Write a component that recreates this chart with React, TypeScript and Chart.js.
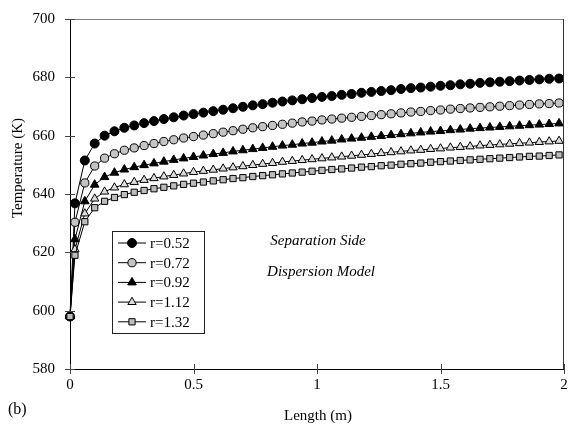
import React, { useEffect, useRef } from "react";
import { Chart, registerables } from "chart.js";
import { drawPoint } from "chart.js/helpers";

Chart.register(...registerables);

const LENGTH = [
  0, 0.02, 0.06, 0.1, 0.14, 0.18, 0.22, 0.26, 0.3, 0.34, 0.38, 0.42, 0.46, 0.5, 0.54, 0.58, 0.62,
  0.66, 0.7, 0.74, 0.78, 0.82, 0.86, 0.9, 0.94, 0.98, 1.02, 1.06, 1.1, 1.14, 1.18, 1.22, 1.26,
  1.3, 1.34, 1.38, 1.42, 1.46, 1.5, 1.54, 1.58, 1.62, 1.66, 1.7, 1.74, 1.78, 1.82, 1.86, 1.9,
  1.94, 1.98,
];

const T_R052 = [
  598, 636.8, 651.5, 657.3, 660.0, 661.5, 662.7, 663.5, 664.3, 665.0, 665.7, 666.3, 666.9, 667.4,
  667.9, 668.4, 668.9, 669.4, 669.9, 670.4, 670.8, 671.3, 671.7, 672.1, 672.5, 672.9, 673.3,
  673.6, 674.0, 674.3, 674.7, 675.0, 675.3, 675.6, 676.0, 676.3, 676.5, 676.8, 677.1, 677.3,
  677.6, 677.8, 678.1, 678.3, 678.5, 678.7, 678.9, 679.1, 679.3, 679.5, 679.6,
];

const T_R072 = [
  598, 630.3, 643.8, 649.6, 652.3, 653.8, 655.0, 655.8, 656.6, 657.3, 658.0, 658.6, 659.2, 659.7,
  660.2, 660.7, 661.2, 661.7, 662.2, 662.7, 663.1, 663.5, 663.9, 664.3, 664.7, 665.0, 665.4,
  665.7, 666.0, 666.3, 666.6, 666.9, 667.2, 667.5, 667.8, 668.1, 668.3, 668.6, 668.8, 669.1,
  669.3, 669.5, 669.7, 669.9, 670.1, 670.3, 670.5, 670.7, 670.9, 671.0, 671.2,
];

const T_R092 = [
  598, 624.5, 637.5, 643.2, 645.8, 647.3, 648.4, 649.2, 649.9, 650.5, 651.1, 651.7, 652.2, 652.7,
  653.2, 653.7, 654.1, 654.6, 655.0, 655.4, 655.8, 656.2, 656.6, 656.9, 657.3, 657.6, 658.0,
  658.3, 658.7, 659.0, 659.3, 659.6, 659.9, 660.2, 660.5, 660.8, 661.1, 661.4, 661.6, 661.9,
  662.1, 662.4, 662.6, 662.8, 663.0, 663.2, 663.4, 663.6, 663.8, 664.0, 664.2,
];

const T_R112 = [
  598, 621.0, 633.3, 638.4, 640.8, 642.2, 643.3, 644.1, 644.8, 645.4, 646.0, 646.5, 647.0, 647.5,
  647.9, 648.3, 648.7, 649.1, 649.5, 649.9, 650.3, 650.6, 651.0, 651.3, 651.6, 651.9, 652.2,
  652.5, 652.8, 653.1, 653.4, 653.7, 654.0, 654.3, 654.6, 654.9, 655.1, 655.4, 655.6, 655.9,
  656.1, 656.3, 656.6, 656.8, 657.0, 657.2, 657.4, 657.6, 657.8, 658.0, 658.2,
];

const T_R132 = [
  598, 619.0, 630.5, 635.3, 637.5, 638.8, 639.8, 640.6, 641.2, 641.8, 642.3, 642.8, 643.3, 643.7,
  644.1, 644.5, 644.9, 645.3, 645.6, 646.0, 646.3, 646.6, 646.9, 647.2, 647.5, 647.8, 648.1,
  648.4, 648.6, 648.9, 649.2, 649.4, 649.7, 649.9, 650.2, 650.4, 650.6, 650.9, 651.1, 651.3,
  651.5, 651.7, 651.9, 652.1, 652.3, 652.5, 652.7, 652.9, 653.0, 653.2, 653.4,
];

const SERIES_LABELS = ["r=0.52", "r=0.72", "r=0.92", "r=1.12", "r=1.32"];
const X_TITLE = "Length (m)";
const Y_TITLE = "Temperature (K)";
const PANEL_LABEL = "(b)";
const NOTE_LINES = ["Separation Side", "Dispersion Model"];

const SERIF = "'Liberation Serif', 'Times New Roman', serif";

const STYLES = [
  { pointStyle: "circle", fill: "#000000", radius: 4.5 },
  { pointStyle: "circle", fill: "#c4c4c4", radius: 4.1 },
  { pointStyle: "triangle", fill: "#000000", radius: 5.0 },
  { pointStyle: "triangle", fill: "#dcdcdc", radius: 4.8 },
  { pointStyle: "rect", fill: "#bcbcbc", radius: 4.4 },
];

const decorPlugin = {
  id: "decor",
  afterDraw(chart: any) {
    const { ctx, chartArea } = chart;
    const { left, right, top, bottom } = chartArea;
    const xs = chart.scales.x;
    const ys = chart.scales.y;
    ctx.save();

    // top & right frame
    ctx.strokeStyle = "#808080";
    ctx.lineWidth = 1;
    ctx.beginPath();
    ctx.moveTo(left, top + 0.5);
    ctx.lineTo(right, top + 0.5);
    ctx.stroke();
    ctx.strokeStyle = "#333333";
    ctx.beginPath();
    ctx.moveTo(right - 0.5, top);
    ctx.lineTo(right - 0.5, bottom);
    ctx.stroke();

    // crossing tick marks
    ctx.strokeStyle = "#444444";
    ys.ticks.forEach((t: any) => {
      const y = Math.round(ys.getPixelForValue(t.value)) + 0.5;
      ctx.beginPath();
      ctx.moveTo(left - 5, y);
      ctx.lineTo(left + 5, y);
      ctx.stroke();
    });
    xs.ticks.forEach((t: any) => {
      const x = Math.round(xs.getPixelForValue(t.value)) + 0.5;
      ctx.beginPath();
      ctx.moveTo(x, bottom - 5);
      ctx.lineTo(x, bottom + 5);
      ctx.stroke();
    });

    // axis titles
    ctx.fillStyle = "#000000";
    ctx.font = `15px ${SERIF}`;
    ctx.textAlign = "center";
    ctx.textBaseline = "middle";
    ctx.fillText(X_TITLE, 318, 416);
    ctx.save();
    ctx.translate(18, 168);
    ctx.rotate(-Math.PI / 2);
    ctx.fillText(Y_TITLE, 0, 0);
    ctx.restore();

    ctx.font = `16px ${SERIF}`;
    ctx.textAlign = "left";
    ctx.fillText(PANEL_LABEL, 8, 410);

    // notes
    ctx.font = `italic 15px ${SERIF}`;
    ctx.textAlign = "center";
    ctx.fillText(NOTE_LINES[0], 318, 241);
    ctx.fillText(NOTE_LINES[1], 321, 272);

    // legend box
    const bx = 112, by = 231, bw = 92, bh = 102;
    ctx.strokeStyle = "#222222";
    ctx.lineWidth = 1;
    ctx.strokeRect(bx + 0.5, by + 0.5, bw, bh);
    chart.data.datasets.forEach((ds: any, i: number) => {
      const yy = by + 12 + i * 19.7;
      ctx.strokeStyle = "#000000";
      ctx.lineWidth = 1;
      ctx.beginPath();
      ctx.moveTo(118, yy);
      ctx.lineTo(146, yy);
      ctx.stroke();
      ctx.fillStyle = ds.pointBackgroundColor;
      ctx.strokeStyle = "#000000";
      ctx.lineWidth = 1;
      drawPoint(ctx, { pointStyle: ds.pointStyle, radius: ds.pointRadius, rotation: 0, borderWidth: 1 }, 132, yy);
      ctx.fillStyle = "#000000";
      ctx.font = `15px ${SERIF}`;
      ctx.textAlign = "left";
      ctx.textBaseline = "middle";
      ctx.fillText(ds.label, 150, yy + 1);
    });

    ctx.restore();
  },
};

export default function App() {
  const ref = useRef<HTMLCanvasElement | null>(null);

  useEffect(() => {
    if (!ref.current) return;
    const all = [T_R052, T_R072, T_R092, T_R112, T_R132];
    const datasets = all.map((vals, i) => ({
      label: SERIES_LABELS[i],
      data: LENGTH.map((x, k) => ({ x, y: vals[k] })),
      borderColor: "#000000",
      borderWidth: 1,
      backgroundColor: STYLES[i].fill,
      pointBackgroundColor: STYLES[i].fill,
      pointBorderColor: "#000000",
      pointBorderWidth: 1,
      pointStyle: STYLES[i].pointStyle,
      pointRadius: STYLES[i].radius,
      showLine: true,
      tension: 0,
      clip: false,
      order: all.length - 1 - i,
    }));

    const chart = new Chart(ref.current, {
      type: "scatter",
      data: { datasets },
      options: {
        animation: false,
        responsive: false,
        devicePixelRatio: 1,
        layout: { padding: { top: 19, right: 3, left: 0, bottom: 0 } },
        plugins: {
          legend: { display: false },
          tooltip: { enabled: false },
        },
        scales: {
          x: {
            type: "linear",
            min: 0,
            max: 2,
            grid: { display: false, drawTicks: false },
            border: { display: true, color: "#000000", width: 1 },
            ticks: {
              stepSize: 0.5,
              padding: 7,
              color: "#000000",
              font: { family: SERIF, size: 15 },
              maxRotation: 0,
              callback: (v: any) => String(Number(v)),
            },
            afterFit: (s: any) => {
              s.height = 59;
              s.paddingLeft = 0;
              s.paddingRight = 0;
            },
          },
          y: {
            type: "linear",
            min: 580,
            max: 700,
            grid: { display: false, drawTicks: false },
            border: { display: true, color: "#000000", width: 1 },
            ticks: {
              stepSize: 20,
              padding: 15,
              color: "#000000",
              font: { family: SERIF, size: 15 },
            },
            afterFit: (s: any) => {
              s.width = 70;
              s.paddingTop = 0;
              s.paddingBottom = 0;
            },
          },
        },
      },
      plugins: [decorPlugin],
    });
    return () => chart.destroy();
  }, []);

  return (
    <div style={{ position: "fixed", left: 0, top: 0, width: 570, height: 428, background: "#ffffff" }}>
      <canvas ref={ref} width={570} height={428} style={{ display: "block" }} />
    </div>
  );
}
